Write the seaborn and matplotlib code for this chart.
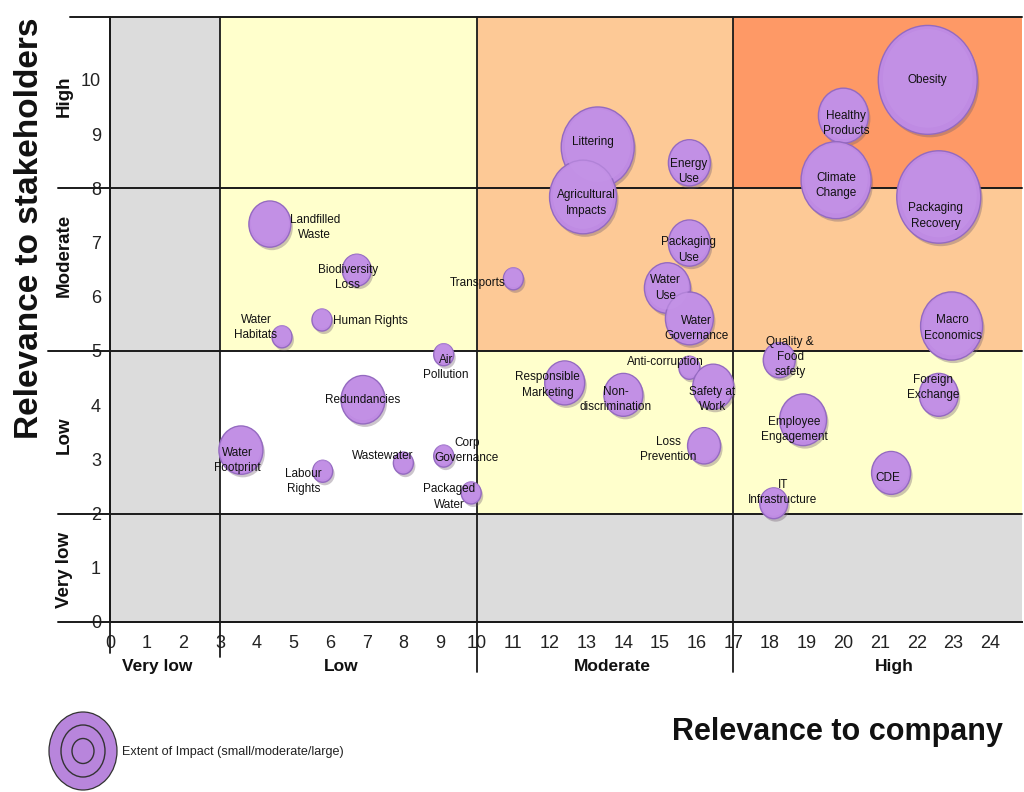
import numpy as np
import pandas as pd
import matplotlib
matplotlib.use("Agg")
import matplotlib.pyplot as plt
import seaborn as sns
from matplotlib.path import Path
from matplotlib.patches import Rectangle, Ellipse
from matplotlib import transforms

# ---- data -------------------------------------------------------------
topics = [
    "Obesity", "Healthy\nProducts", "Littering", "Energy\nUse",
    "Agricultural\nImpacts", "Climate\nChange", "Packaging\nRecovery",
    "Packaging\nUse", "Water\nUse", "Water\nGovernance", "Transports",
    "Macro\nEconomics", "Landfilled\nWaste", "Biodiversity\nLoss",
    "Human Rights", "Water\nHabitats", "Air\nPollution", "Redundancies",
    "Water\nFootprint", "Labour\nRights", "Wastewater", "Corp\nGovernance",
    "Packaged\nWater", "Responsible\nMarketing", "Non-\ndiscrimination",
    "Anti-corruption", "Safety at\nWork", "Loss\nPrevention",
    "Quality &\nFood\nsafety", "Employee\nEngagement", "Foreign\nExchange",
    "CDE", "IT\nInfrastructure",
]
company = [22.3, 20.0, 13.3, 15.8, 12.9, 19.8, 22.6, 15.8, 15.2, 15.8, 11.0,
           22.95, 4.36, 6.73, 5.78, 4.69, 9.1, 6.9, 3.57, 5.8, 8.0, 9.1, 9.85,
           12.4, 14.0, 15.8, 16.45, 16.2, 18.25, 18.9, 22.6, 21.3, 18.1]
stakeholders = [10.0, 9.34, 8.76, 8.47, 7.84, 8.15, 7.84, 6.99, 6.16, 5.6, 6.33,
                5.46, 7.34, 6.49, 5.57, 5.26, 4.93, 4.1, 3.17, 2.78, 2.93, 3.06,
                2.38, 4.41, 4.19, 4.69, 4.34, 3.25, 4.83, 3.73, 4.19, 2.75, 2.19]
impact = [99, 50, 73, 42, 67, 70, 84, 42, 46, 48, 20, 62, 42, 29, 20, 20, 20,
          44, 44, 20, 20, 20, 20, 40, 39, 21, 41, 33, 32, 47, 39, 39, 28]

x_ticks = list(range(0, 25))
y_ticks = list(range(0, 11))
x_levels = ["Very low", "Low", "Moderate", "High"]
y_levels = ["Very low", "Low", "Moderate", "High"]
x_bounds = [0, 3, 10, 17]
y_bounds = [0, 2, 5, 8]

# ---- layout / style ---------------------------------------------------
X_MAX, Y_MAX = 24.87, 11.16
label_offsets = [(0, 0), (3, -8), (-5, 5), (-1, -9), (3, -6), (0, -5), (-3, -19),
                 (-1, -7), (-2, 0), (7, -10), (-36, -4), (1, -2), (45, -3),
                 (-9, -7), (48, -1), (-26, 9), (2, -13), (0, 0), (-4, -10),
                 (-19, -10), (-21, 7), (23, 6), (-22, -4), (-17, -2), (-8, -5),
                 (-24, 6), (-1, -13), (-36, -4), (11, 3), (-9, -10), (-6, 7),
                 (-3, -5), (9, 11)]
x_level_pos = [1.3, 6.3, 13.7, 21.4]
y_level_pos = [0.96, 3.45, 6.77, 9.69]

GRAY, WHITE, YELLOW, PEACH, ORANGE = "#dcdcdc", "#ffffff", "#ffffcc", "#fdc996", "#fe9966"
zone_colors = [  # rows: y bands bottom->top, cols: x bands left->right
    [GRAY, GRAY, GRAY, GRAY],
    [GRAY, WHITE, YELLOW, YELLOW],
    [GRAY, YELLOW, PEACH, PEACH],
    [GRAY, YELLOW, PEACH, ORANGE],
]
LINE = "#1a1a1a"

sns.set_theme(style="white")
plt.rcParams["font.family"] = ["Liberation Sans", "DejaVu Sans"]

fig = plt.figure(figsize=(10.24, 7.92), dpi=100)
ax = fig.add_axes([110 / 1024, 170 / 792, 912 / 1024, 605 / 792])
ax.set_xlim(0, X_MAX)
ax.set_ylim(0, Y_MAX)

# coloured zones
xe = x_bounds + [X_MAX]
ye = y_bounds + [Y_MAX]
for r in range(4):
    for c in range(4):
        ax.add_patch(Rectangle((xe[c], ye[r]), xe[c + 1] - xe[c], ye[r + 1] - ye[r],
                               facecolor=zone_colors[r][c], edgecolor="none", zorder=0))

# zone boundaries, running out past the axes
ytr = ax.get_yaxis_transform()
xtr = ax.get_xaxis_transform()
h_starts = {0: -0.057, 2: -0.057, 5: -0.068, 8: -0.057}
for yb in y_bounds:
    ax.plot([h_starts[yb], 1], [yb, yb], transform=ytr, color=LINE, lw=1.4,
            clip_on=False, zorder=1)
ax.plot([-0.044, 1], [Y_MAX, Y_MAX], transform=ytr, color=LINE, lw=1.4,
        clip_on=False, zorder=1)
v_ends = {0: -0.051, 3: -0.058, 10: -0.083, 17: -0.083}
for xb in x_bounds:
    ax.plot([xb, xb], [v_ends[xb], 1], transform=xtr, color=LINE, lw=1.3,
            clip_on=False, zorder=1)

# bubbles
df = pd.DataFrame({"topic": topics, "company": company,
                   "stakeholders": stakeholders, "impact": impact})
df["area"] = (df["impact"] * 1.1 * 0.72) ** 2
amin, amax = df["area"].min(), df["area"].max()

circ = Path.unit_circle()
bubble = Path(circ.vertices * np.array([1.0, 1.1]), circ.codes)

shadow_tr = transforms.offset_copy(ax.transData, fig=fig, x=2, y=-3, units="dots")
sns.scatterplot(data=df, x="company", y="stakeholders", size="area",
                sizes=(amin, amax), size_norm=(amin, amax), legend=False,
                marker=bubble, color="#6d5a6e", alpha=0.35, linewidth=0,
                transform=shadow_tr, ax=ax, zorder=2)
sns.scatterplot(data=df, x="company", y="stakeholders", size="area",
                sizes=(amin, amax), size_norm=(amin, amax), legend=False,
                marker=bubble, color="#bf8be3", edgecolor="#946ac0",
                linewidth=1.0, ax=ax, zorder=3)
hl_tr = transforms.offset_copy(ax.transData, fig=fig, x=0, y=1.5, units="dots")
sns.scatterplot(data=df, x="company", y="stakeholders", size="area",
                sizes=(amin * 0.82, amax * 0.82), size_norm=(amin, amax), legend=False,
                marker=bubble, color="#c594e8", alpha=0.6, linewidth=0,
                transform=hl_tr, ax=ax, zorder=3)

for (name, xv, yv, (dx, dy)) in zip(topics, company, stakeholders, label_offsets):
    ax.annotate(name, (xv, yv), xytext=(dx, dy), textcoords="offset pixels",
                ha="center", va="center", fontsize=8.5, linespacing=1.35,
                color="#111111", zorder=5)

# axes
ax.set_xticks(x_ticks)
ax.set_yticks(y_ticks)
ax.set_xticklabels([str(t) for t in x_ticks], fontsize=13, color="#222222")
ax.set_yticklabels([str(t) for t in y_ticks], fontsize=13, color="#222222")
ax.tick_params(axis="x", direction="inout", length=5, width=1, pad=7, color=LINE)
ax.tick_params(axis="y", direction="out", length=4.5, width=1, pad=2, color=LINE)
for side in ["top", "right"]:
    ax.spines[side].set_visible(False)
for side in ["left", "bottom"]:
    ax.spines[side].set_color(LINE)
    ax.spines[side].set_linewidth(1.4)
ax.set_xlabel("")
ax.set_ylabel("")

for lab, xp in zip(x_levels, x_level_pos):
    ax.text(xp, -0.074, lab, transform=xtr, ha="center", va="center",
            fontsize=12.5, fontweight="bold", color="#111111")
for lab, yp in zip(y_levels, y_level_pos):
    ax.text(-0.050, yp, lab, transform=ytr, ha="center", va="center",
            rotation=90, fontsize=13.5, fontweight="bold", color="#111111")

fig.text(30 / 1024, 1 - 228 / 792, "Relevance to stakeholders", rotation=90,
         ha="center", va="center", fontsize=24, fontweight="bold", color="#111111")
fig.text(837 / 1024, 1 - 732 / 792, "Relevance to company", ha="center",
         va="center", fontsize=22, fontweight="bold", color="#111111")

# impact key
cx, cy = 83 / 1024, 1 - 751 / 792
fig.patches.append(Ellipse((cx, cy), 68 / 1024, 78 / 792, transform=fig.transFigure,
                           facecolor="#b885dc", edgecolor="#333333", lw=0.9))
for w, h in [(44, 52), (22, 25)]:
    fig.patches.append(Ellipse((cx, cy), w / 1024, h / 792, transform=fig.transFigure,
                               facecolor="none", edgecolor="#333333", lw=1.0))
fig.text(122 / 1024, 1 - 752 / 792, "Extent of Impact (small/moderate/large)",
         ha="left", va="center", fontsize=9.1, color="#222222")

fig.savefig("out.png", dpi=100)
